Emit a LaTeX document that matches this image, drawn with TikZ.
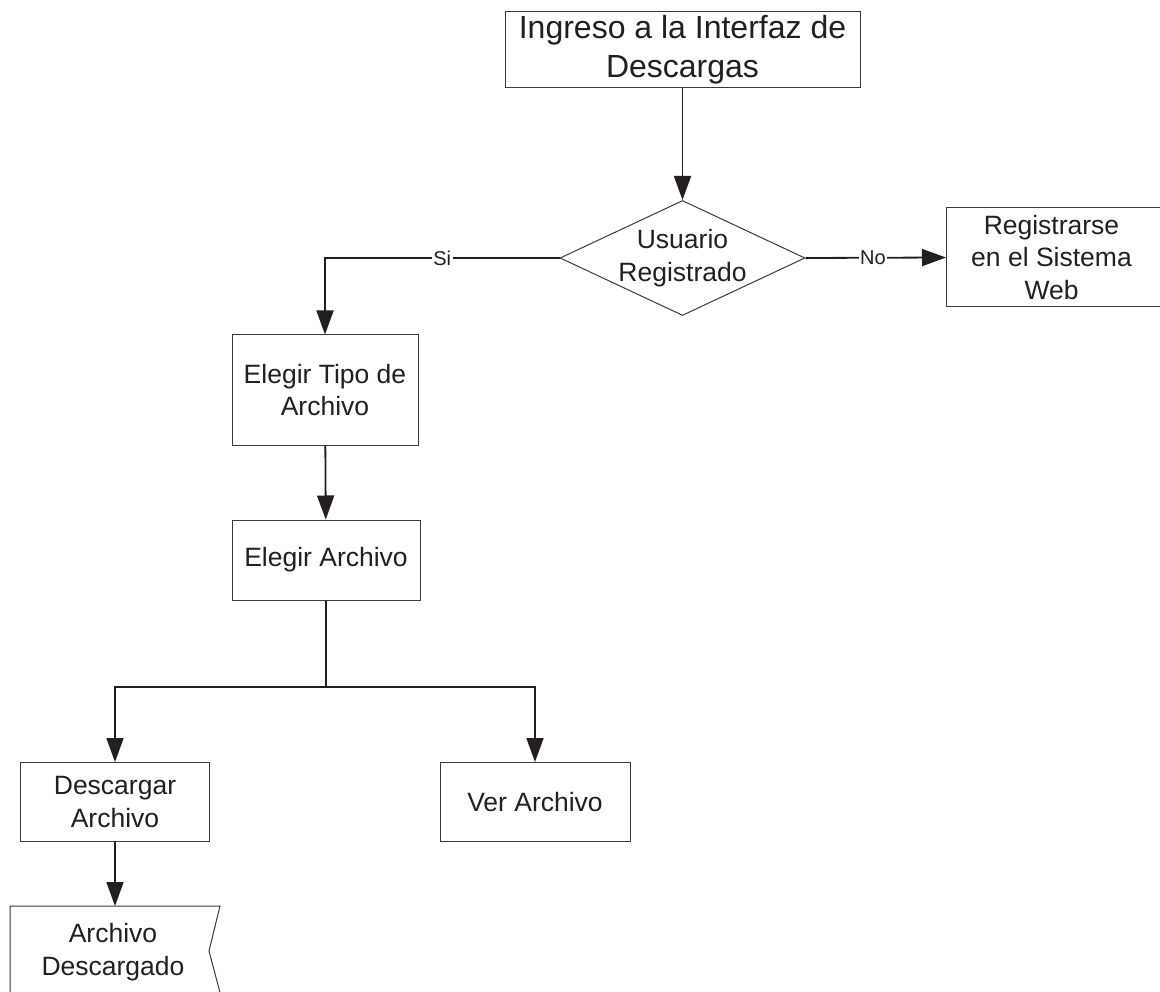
\documentclass[tikz,border=0pt]{standalone}
\usepackage{fontspec}
\setmainfont{Liberation Sans}
\usetikzlibrary{arrows.meta,shapes.geometric}
\definecolor{ink}{HTML}{231F20}
\definecolor{boxline}{HTML}{3A3A3A}
\tikzset{
  proc/.style={draw=boxline, line width=1pt, fill=white, inner sep=0pt, align=center,
    text=ink, font=\fontsize{26.5}{32.5}\selectfont},
  conn/.style={draw=ink, line width=1.8pt, -{Triangle[length=24pt,width=17pt]}},
  plainconn/.style={draw=ink, line width=1.8pt},
  lbl/.style={fill=white, inner sep=1.5pt, text=ink, font=\fontsize{20}{24}\selectfont}
}
\begin{document}
\begin{tikzpicture}[x=1pt,y=-1pt]
\useasboundingbox (0,0) rectangle (1160,992);
\clip (0,0) rectangle (1160,992);
% nodes
\node[proc, minimum width=355pt, minimum height=76pt,
      font=\fontsize{32}{39}\selectfont] (top) at (682.5,50) {Ingreso a la Interfaz de\\Descargas};
\node[diamond, draw=boxline, line width=1pt, minimum width=245pt, minimum height=115pt,
      inner sep=0pt] (dec) at (682.5,258) {};
\node[text=ink, align=center, font=\fontsize{26.5}{32.5}\selectfont] (dect) at (dec.center) {Usuario\\Registrado};
\node[proc, minimum width=230pt, minimum height=99pt, anchor=west] (reg) at (946,257.5) {\hspace*{-20pt}Registrarse\\\hspace*{-20pt}en el Sistema\\\hspace*{-20pt}Web};
\node[proc, minimum width=186pt, minimum height=110pt] (tipo) at (325,390) {Elegir Tipo de\\Archivo};
\node[proc, minimum width=188pt, minimum height=80pt] (elegir) at (326,560) {Elegir Archivo};
\node[proc, minimum width=189pt, minimum height=79pt] (desc) at (115,802) {Descargar\\Archivo};
\node[proc, minimum width=190pt, minimum height=79pt] (ver) at (535,802) {Ver Archivo};
% document shape (cut off at the bottom)
\draw[draw=boxline, line width=1pt] (10,1000) -- (10,906) coordinate (dtop) -- (220,906) -- (209,951) -- (222,1000);
\node[text=ink, align=center, font=\fontsize{26.5}{32.5}\selectfont] (arch) at (113,952) {Archivo\\Descargado};
\coordinate (archtop) at (115,906);
% connectors
\coordinate (j) at (326,687);
\draw[conn] (top) -- (dec);
\draw[conn] (dec.west) -| node[lbl, pos=0.25] (si) {Si} (tipo.north);
\draw[conn] (dec.east) -- node[lbl, pos=0.48] (no) {No} (reg.west);
\draw[conn] (tipo) -- (elegir);
\draw[plainconn] (elegir.south) -- (j);
\draw[conn] (j) -| (desc.north);
\draw[conn] (j) -| (ver.north);
\draw[conn] (desc.south) -- (archtop);
\end{tikzpicture}
\end{document}
